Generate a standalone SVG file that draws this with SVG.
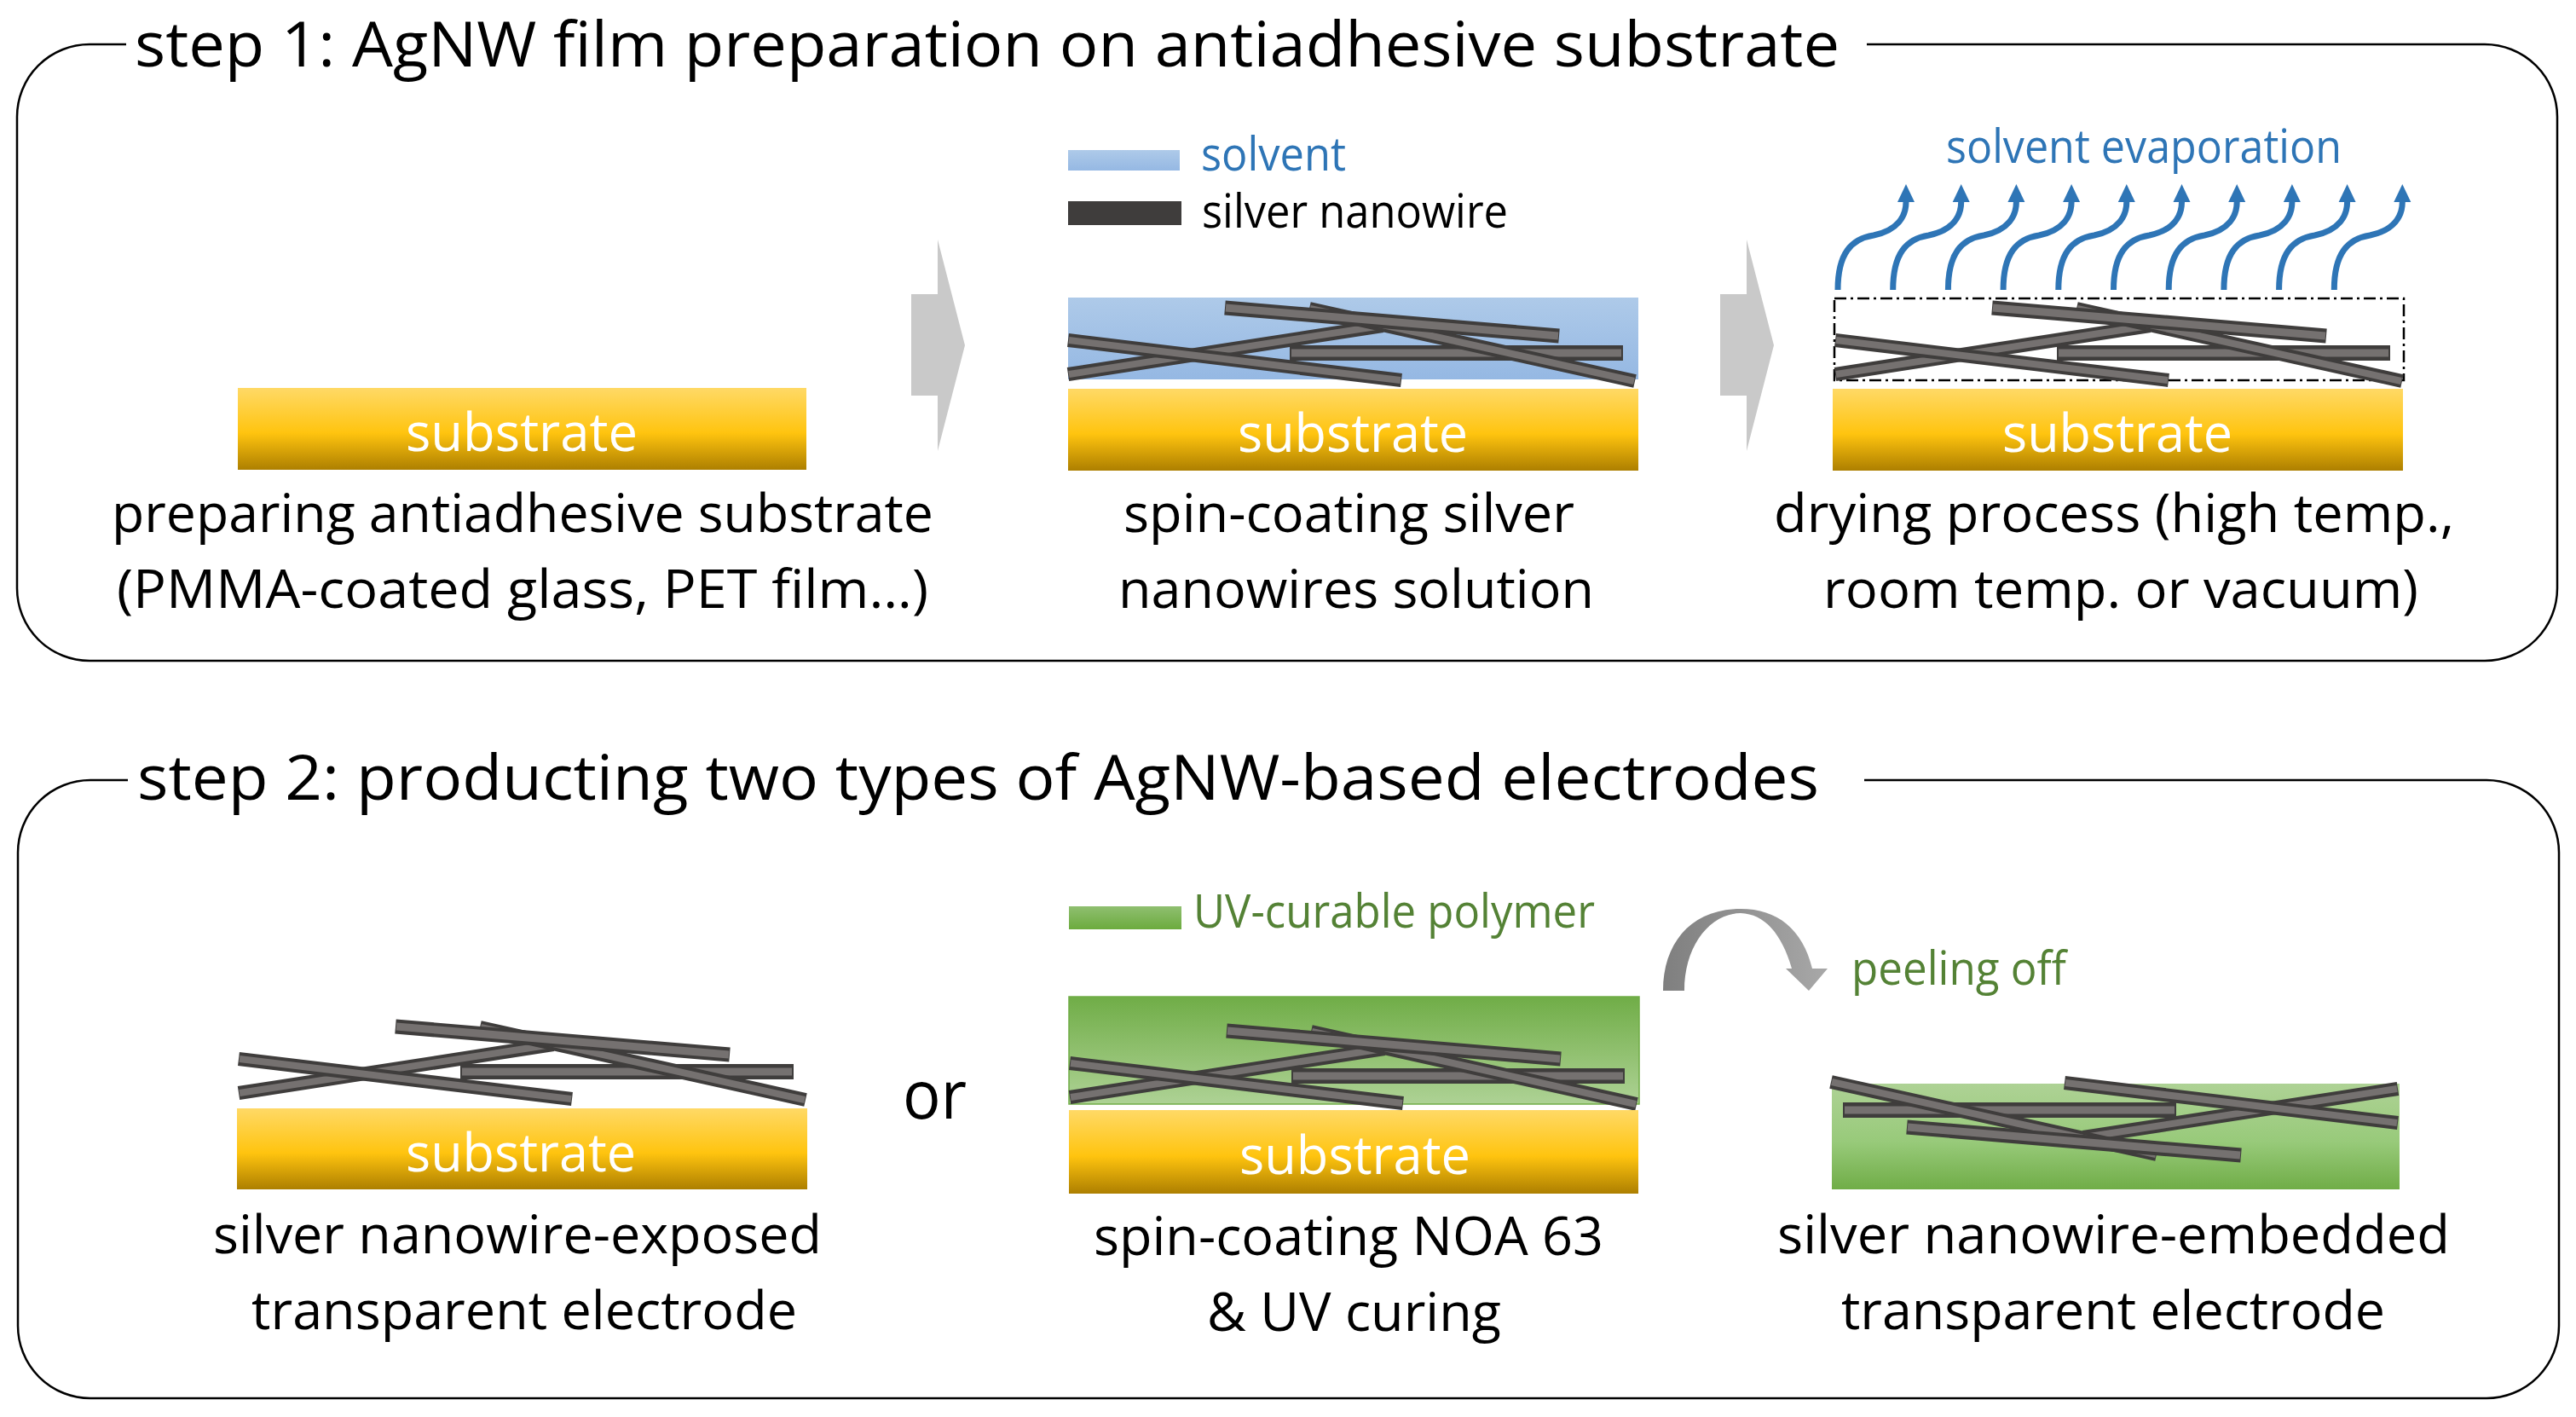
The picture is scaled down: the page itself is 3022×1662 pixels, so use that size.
<svg xmlns="http://www.w3.org/2000/svg" width="3022" height="1662" viewBox="0 0 3022 1662">
<style>
text{font-family:"Open Sans","Noto Sans","Liberation Sans",sans-serif;fill:#000}
.t{font-size:72.500px}
.c{font-size:62px}
.s{font-size:62px;fill:#fff}
.l{font-size:54px}
.b{fill:#2e75b6}
.g{fill:#548235}
.box{fill:none;stroke:#000;stroke-width:2.5}
.wd{stroke:#3f3d3c;fill:none}
.wl{stroke:#757170;fill:none}
.ev{fill:none;stroke:#2e75b6;stroke-width:7}
</style>
<defs>
<linearGradient id="gs" x1="0" y1="0" x2="0" y2="1"><stop offset="0" stop-color="#ffd966"/><stop offset=".55" stop-color="#ffc40f"/><stop offset="1" stop-color="#ad7f00"/></linearGradient>
<linearGradient id="gb" x1="0" y1="0" x2="0" y2="1"><stop offset="0" stop-color="#aecae9"/><stop offset="1" stop-color="#95b8e3"/></linearGradient>
<linearGradient id="gg" x1="0" y1="0" x2="0" y2="1"><stop offset="0" stop-color="#70ad47"/><stop offset="1" stop-color="#aed295"/></linearGradient>
<linearGradient id="gg2" x1="0" y1="0" x2="0" y2="1"><stop offset="0" stop-color="#aed295"/><stop offset=".55" stop-color="#98ca7a"/><stop offset="1" stop-color="#70ad47"/></linearGradient>
<linearGradient id="gl" x1="0" y1="0" x2="0" y2="1"><stop offset="0" stop-color="#8fbf70"/><stop offset="1" stop-color="#6cab3e"/></linearGradient>
<linearGradient id="gp" x1="0" y1="0" x2="1" y2="0"><stop offset="0" stop-color="#7f7f7f"/><stop offset="1" stop-color="#a8a8a8"/></linearGradient>
<g id="wires">
<line class="wd" x1="1253" y1="439" x2="1622" y2="382" stroke-width="16"/>
<line class="wl" x1="1254" y1="439" x2="1621" y2="382" stroke-width="8"/>
<line class="wd" x1="1513" y1="414" x2="1904" y2="414" stroke-width="18"/>
<line class="wl" x1="1515" y1="414" x2="1902" y2="414" stroke-width="9"/>
<line class="wd" x1="1536" y1="362" x2="1918" y2="447" stroke-width="16"/>
<line class="wl" x1="1537" y1="362" x2="1917" y2="447" stroke-width="8"/>
<line class="wd" x1="1253" y1="399" x2="1644" y2="446" stroke-width="16"/>
<line class="wl" x1="1254" y1="399" x2="1643" y2="446" stroke-width="8"/>
<line class="wd" x1="1437" y1="361" x2="1829" y2="394" stroke-width="17"/>
<line class="wl" x1="1438" y1="361" x2="1828" y2="394" stroke-width="9"/>
</g>
<path id="ev" class="ev" d="M0 0C0 -43 16 -60 42 -64C71 -70 80 -87 80 -103"/>
<path id="evh" class="b" d="M70 -103L90 -103L80 -124Z"/>
<path id="chev" d="M0 64H31V0L63 124L31 248V183H0Z" fill="#c9c9c9"/>
</defs>

<g id="step1-box">
<path class="box" d="M148 52H105A85 85 0 0 0 20 137V690A85 85 0 0 0 105 775H2915A85 85 0 0 0 3000 690V137A85 85 0 0 0 2915 52H2190"/>
<text class="t" x="158" y="78" textLength="2000" lengthAdjust="spacingAndGlyphs">step 1: AgNW film preparation on antiadhesive substrate</text>
</g>
<g id="step2-box">
<path class="box" d="M150 915H106A85 85 0 0 0 21 1000V1555A85 85 0 0 0 106 1640H2917A85 85 0 0 0 3002 1555V1000A85 85 0 0 0 2917 915H2187"/>
<text class="t" x="161" y="938" textLength="1973" lengthAdjust="spacingAndGlyphs">step 2: producting two types of AgNW-based electrodes</text>
</g>

<g id="panel-substrate">
<rect x="279" y="455" width="667" height="96" fill="url(#gs)"/>
<text class="s" x="476" y="529" textLength="272" lengthAdjust="spacingAndGlyphs">substrate</text>
<text class="c" x="131" y="624" textLength="964" lengthAdjust="spacingAndGlyphs">preparing antiadhesive substrate</text>
<text class="c" x="137" y="713" textLength="952" lengthAdjust="spacingAndGlyphs">(PMMA-coated glass, PET film…)</text>
</g>

<g id="legend-step1">
<rect x="1253" y="176" width="131" height="24" fill="url(#gb)"/>
<text class="l b" x="1409" y="200" textLength="170" lengthAdjust="spacingAndGlyphs">solvent</text>
<rect x="1253" y="236" width="133" height="28" fill="#3f3d3c"/>
<text class="l" x="1410" y="267" textLength="359" lengthAdjust="spacingAndGlyphs">silver nanowire</text>
</g>

<g id="panel-spin">
<rect x="1253" y="349" width="669" height="96" fill="url(#gb)"/>
<use href="#wires"/>
<rect x="1253" y="456" width="669" height="96" fill="url(#gs)"/>
<text class="s" x="1452" y="530" textLength="270" lengthAdjust="spacingAndGlyphs">substrate</text>
<text class="c" x="1318" y="624" textLength="529" lengthAdjust="spacingAndGlyphs">spin-coating silver</text>
<text class="c" x="1312" y="713" textLength="558" lengthAdjust="spacingAndGlyphs">nanowires solution</text>
</g>

<g id="panel-dry">
<rect x="2152" y="350" width="668" height="96" fill="none" stroke="#000" stroke-width="2.500" stroke-dasharray="14 5 3 5"/>
<use href="#wires" x="900"/>
<rect x="2150" y="456" width="669" height="96" fill="url(#gs)"/>
<text class="s" x="2349" y="530" textLength="270" lengthAdjust="spacingAndGlyphs">substrate</text>
<text class="c" x="2081" y="624" textLength="798" lengthAdjust="spacingAndGlyphs">drying process (high temp.,</text>
<text class="c" x="2139" y="713" textLength="698" lengthAdjust="spacingAndGlyphs">room temp. or vacuum)</text>
<text class="l b" x="2283" y="191" textLength="464" lengthAdjust="spacingAndGlyphs">solvent evaporation</text>
<g id="evaporation">
<use href="#ev" x="2156" y="340"/><use href="#evh" x="2156" y="340"/>
<use href="#ev" x="2220.700" y="340"/><use href="#evh" x="2220.700" y="340"/>
<use href="#ev" x="2285.400" y="340"/><use href="#evh" x="2285.400" y="340"/>
<use href="#ev" x="2350.100" y="340"/><use href="#evh" x="2350.100" y="340"/>
<use href="#ev" x="2414.800" y="340"/><use href="#evh" x="2414.800" y="340"/>
<use href="#ev" x="2479.500" y="340"/><use href="#evh" x="2479.500" y="340"/>
<use href="#ev" x="2544.200" y="340"/><use href="#evh" x="2544.200" y="340"/>
<use href="#ev" x="2608.900" y="340"/><use href="#evh" x="2608.900" y="340"/>
<use href="#ev" x="2673.600" y="340"/><use href="#evh" x="2673.600" y="340"/>
<use href="#ev" x="2738.300" y="340"/><use href="#evh" x="2738.300" y="340"/>
</g>
</g>

<g id="connectors">
<use href="#chev" x="1069" y="281"/>
<use href="#chev" x="2018" y="281"/>
<path id="peel-arrow" fill="url(#gp)" d="M1951 1162C1951 1105 1985 1066 2042 1066C2085 1066 2115 1090 2126 1136L2144 1136L2122 1162L2095 1136L2102 1136C2090 1095 2070 1072 2042 1071C2005 1072 1976 1110 1976 1162Z"/>
</g>

<g id="panel-exposed">
<use href="#wires" x="-973" y="843"/>
<rect x="278" y="1300" width="669" height="95" fill="url(#gs)"/>
<text class="s" x="476" y="1374" textLength="270" lengthAdjust="spacingAndGlyphs">substrate</text>
<text class="c" x="250" y="1470" textLength="714" lengthAdjust="spacingAndGlyphs">silver nanowire-exposed</text>
<text class="c" x="295" y="1559" textLength="640" lengthAdjust="spacingAndGlyphs">transparent electrode</text>
</g>

<g id="label-or"><text x="1059" y="1312" font-size="78" textLength="75" lengthAdjust="spacingAndGlyphs">or</text></g>

<g id="legend-step2">
<rect x="1254" y="1063" width="132" height="27" fill="url(#gl)"/>
<text class="l g" x="1400" y="1088" textLength="471" lengthAdjust="spacingAndGlyphs">UV-curable polymer</text>
</g>

<g id="panel-noa">
<rect x="1254" y="1169" width="669" height="126" fill="url(#gg)" stroke="#70ad47" stroke-width="1.500"/>
<use href="#wires" x="2" y="848"/>
<rect x="1254" y="1302" width="668" height="98" fill="url(#gs)"/>
<text class="s" x="1454" y="1377" textLength="271" lengthAdjust="spacingAndGlyphs">substrate</text>
<text class="c" x="1283" y="1472" textLength="598" lengthAdjust="spacingAndGlyphs">spin-coating NOA 63</text>
<text class="c" x="1416" y="1561" textLength="345" lengthAdjust="spacingAndGlyphs">&amp; UV curing</text>
</g>

<g id="panel-embedded">
<rect x="2149" y="1271" width="666" height="124" fill="url(#gg2)"/>
<use href="#wires" transform="translate(4066 1716) rotate(180)"/>
<text class="l g" x="2172" y="1155" textLength="252" lengthAdjust="spacingAndGlyphs">peeling off</text>
<text class="c" x="2085" y="1470" textLength="789" lengthAdjust="spacingAndGlyphs">silver nanowire-embedded</text>
<text class="c" x="2160" y="1559" textLength="638" lengthAdjust="spacingAndGlyphs">transparent electrode</text>
</g>
</svg>
